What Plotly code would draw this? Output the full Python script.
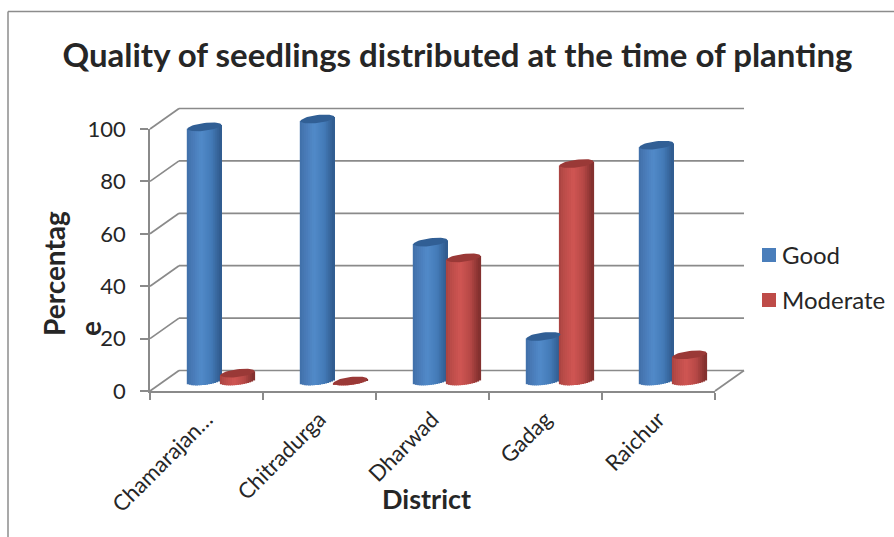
import math
import plotly.graph_objects as go

# Chart data
districts = ["Chamarajan…", "Chitradurga", "Dharwad", "Gadag", "Raichur"]
good = [97, 100, 53, 17, 90]
moderate = [3, 0, 47, 83, 10]
y_ticks = [0, 20, 40, 60, 80, 100]

W, H = 894, 537
FONT = "Lato"
INK = "#262626"
GRID = "#8a8a8a"

# Pixel geometry of the front plane and of the receding depth
FRONT_L, FRONT_R = 150, 715
FRONT_T, FRONT_B = 129, 391
DEPTH_X, DEPTH_Y = 29, -20.5
CAT_PX = (FRONT_R - FRONT_L) / len(districts)
VAL_PX = (FRONT_B - FRONT_T) / 100
BAR_BASE_PX = 381
SCENE_L, SCENE_R, SCENE_T, SCENE_B = 130, 760, 100, 400


def xfrac(px):
    return px / W


def yfrac(px):
    return 1 - px / H


scene_x = [(p - FRONT_L) / CAT_PX - 0.5 for p in (SCENE_L, SCENE_R)]
scene_y = [(BAR_BASE_PX - p) / VAL_PX for p in (SCENE_B, SCENE_T)]


def sx(depth=0.0, pos=-0.5):
    # category position shifted by a fraction of the chart depth
    return pos + depth * DEPTH_X / CAT_PX


def sy(value, depth=0.0):
    # value on the cylinders' scale, for a point at a fraction of the depth
    return value + (BAR_BASE_PX - FRONT_B - depth * DEPTH_Y) / VAL_PX


# Cylinder shape, in axis units
RX = 17 / CAT_PX
RY = 3.9 / VAL_PX
SHEAR = 2.0 / VAL_PX
STRIPS = 17
GOOD_SHIFT = -2.1 / CAT_PX
MOD_SHIFT = 31.0 / CAT_PX

BLUE_RAMP = [(0, "#3f6fa9"), (0.12, "#4777b3"), (0.42, "#518ac9"), (0.72, "#447bb8"), (1, "#2f5a8c")]
RED_RAMP = [(0, "#a84240"), (0.12, "#b84b48"), (0.42, "#d05653"), (0.72, "#b64846"), (1, "#7e2e2c")]
BLUE_TOP = "#315f95"
RED_TOP = "#9a3937"


def ramp_color(ramp, t):
    for (t0, c0), (t1, c1) in zip(ramp, ramp[1:]):
        if t <= t1:
            k = (t - t0) / (t1 - t0)
            rgb = [
                round(int(c0[i:i + 2], 16) * (1 - k) + int(c1[i:i + 2], 16) * k)
                for i in (1, 3, 5)
            ]
            return "rgb({},{},{})".format(*rgb)
    return ramp[-1][1]


fig = go.Figure()

# Empty trace so the category axis is built with every district
fig.add_trace(go.Scatter(x=districts, y=[None] * len(districts), xaxis="x", yaxis="y",
                         showlegend=False, hoverinfo="skip"))


def add_cylinders(values, shift, ramp, top_color, name):
    xs = [i + shift for i in range(len(values))]
    strip_w = 2 * RX / STRIPS
    for s in range(STRIPS):
        u = -1 + (s + 0.5) * 2 / STRIPS
        lift = SHEAR * u
        base = lift - RY * math.sqrt(1 - u * u)
        bases = [base] * len(values)
        lengths = [v + lift - base for v in values]
        # Strips overlap slightly so the shading stays continuous
        fig.add_trace(go.Bar(
            x=[x + u * RX for x in xs], y=lengths, base=bases, width=strip_w * 1.6,
            marker=dict(color=ramp_color(ramp, (u + 1) / 2), line=dict(width=0)),
            xaxis="x2", yaxis="y2", name=name, showlegend=False, hoverinfo="skip",
        ))
    # Flat ellipse closing the top of each cylinder
    for x, v in zip(xs, values):
        angles = [k * 2 * math.pi / 48 for k in range(49)]
        fig.add_trace(go.Scatter(
            x=[x + RX * math.cos(a) for a in angles],
            y=[v + SHEAR * math.cos(a) + RY * math.sin(a) for a in angles],
            mode="lines", fill="toself", fillcolor=top_color,
            line=dict(width=0, color=top_color),
            xaxis="x2", yaxis="y2", showlegend=False, hoverinfo="skip",
        ))


add_cylinders(good, GOOD_SHIFT, BLUE_RAMP, BLUE_TOP, "Good")
add_cylinders(moderate, MOD_SHIFT, RED_RAMP, RED_TOP, "Moderate")

shapes = []


def wall_line(x0, y0, x1, y1):
    shapes.append(dict(type="line", xref="x2", yref="y2", x0=x0, y0=y0, x1=x1, y1=y1,
                       layer="below", line=dict(color=GRID, width=1.7)))


# Gridlines on the back wall and their return to the value axis
for v in y_ticks:
    wall_line(sx(1), sy(v, 1), sx(1, 4.5), sy(v, 1))
    wall_line(sx(0), sy(v, 0), sx(1), sy(v, 1))
# Right edge of the floor
wall_line(sx(0, 4.5), sy(0, 0), sx(1, 4.5), sy(0, 1))

# Outer chart frame, open at the right and at the bottom
for x0, y0, x1, y1 in [(8, 11.5, W, 11.5), (8, 11.5, 8, H)]:
    shapes.append(dict(type="line", xref="paper", yref="paper",
                       x0=xfrac(x0), y0=yfrac(y0), x1=xfrac(x1), y1=yfrac(y1),
                       line=dict(color="#8c8c8c", width=1.5)))

annotations = []
# Legend entries
for name, color, py in [("Good", "#4a7ebb", 255), ("Moderate", "#be4b48", 300)]:
    shapes.append(dict(type="rect", xref="paper", yref="paper", line=dict(width=0), fillcolor=color,
                       x0=xfrac(762), x1=xfrac(776), y0=yfrac(py - 7), y1=yfrac(py + 7)))
    annotations.append(dict(text=name, xref="paper", yref="paper", x=xfrac(780), y=yfrac(py - 1),
                            xanchor="left", yanchor="middle", showarrow=False,
                            font=dict(family=FONT, size=24, color=INK)))

# Axis titles
annotations.append(dict(text="District", xref="paper", yref="paper", x=xfrac(426), y=yfrac(498),
                        xanchor="center", yanchor="middle", showarrow=False,
                        font=dict(family=FONT, size=27, color=INK, weight="bold")))
annotations.append(dict(text="Percentag<br>e", xref="paper", yref="paper", x=xfrac(72), y=yfrac(274),
                        xanchor="center", yanchor="middle", align="left", textangle=-90,
                        showarrow=False, font=dict(family=FONT, size=28, color=INK, weight="bold")))

fig.update_layout(
    width=W, height=H, autosize=False,
    margin=dict(l=0, r=0, t=0, b=0, autoexpand=False),
    paper_bgcolor="white", plot_bgcolor="rgba(0,0,0,0)",
    barmode="overlay", showlegend=False,
    title=dict(text="Quality of seedlings distributed at the time of planting",
               x=xfrac(457.5), xanchor="center", xref="paper",
               y=yfrac(55), yanchor="middle", yref="paper",
               font=dict(family=FONT, size=33, color=INK, weight="bold")),
    xaxis=dict(
        type="category", categoryorder="array", categoryarray=districts,
        domain=[xfrac(FRONT_L), xfrac(FRONT_R)], range=[-0.5, 4.5], anchor="y",
        tickson="boundaries", ticks="outside", ticklen=7, tickcolor=GRID, tickwidth=1.7,
        showline=True, linecolor=GRID, linewidth=1.7, showgrid=False, automargin=False,
        ticklabelstandoff=5, tickangle=-45, tickfont=dict(family=FONT, size=22, color=INK),
    ),
    yaxis=dict(
        domain=[yfrac(FRONT_B), yfrac(FRONT_T)], range=[0, 100], anchor="x",
        tickvals=y_ticks, ticks="outside", ticklen=8, tickcolor=GRID, tickwidth=1.7,
        showline=True, linecolor=GRID, linewidth=1.7, showgrid=False, zeroline=False,
        automargin=False, ticklabelstandoff=10, tickfont=dict(family=FONT, size=22, color=INK),
    ),
    xaxis2=dict(domain=[xfrac(SCENE_L), xfrac(SCENE_R)], range=scene_x, anchor="y2", visible=False),
    yaxis2=dict(domain=[yfrac(SCENE_B), yfrac(SCENE_T)], range=scene_y, anchor="x2", visible=False),
    shapes=shapes, annotations=annotations,
)

fig.write_html("out.html", config=dict(displayModeBar=False))
